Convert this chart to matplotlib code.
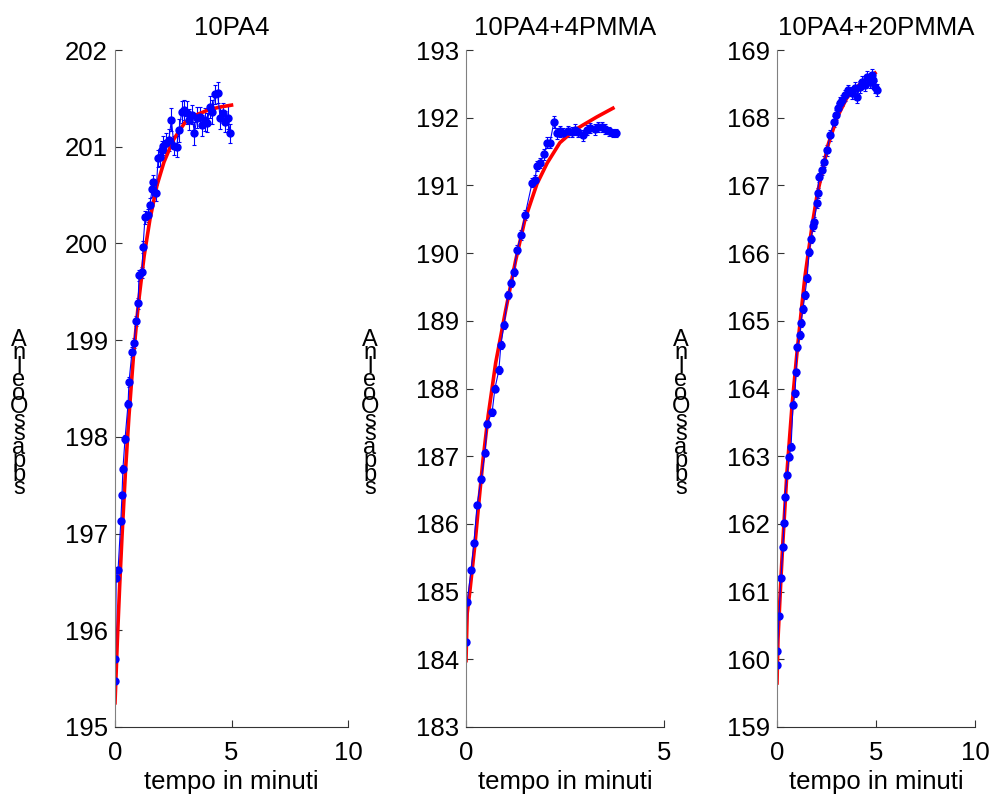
import matplotlib
matplotlib.use('Agg')
import matplotlib.pyplot as plt

plt.rcParams['font.family'] = ['Liberation Sans', 'DejaVu Sans']

# titoli dei tre pannelli
titoli = ['10PA4', '10PA4+4PMMA', '10PA4+20PMMA']
etichetta_x = 'tempo in minuti'
lettere_y = ['A', 'n', 'l', 'e', 'o', 'O', 's', 's', 'a', 'p', 'b', 's']

# 10PA4 - dati misurati
t1 = [0.00, 0.02, 0.05, 0.13, 0.25, 0.30, 0.34, 0.43, 0.56, 0.60,
      0.73, 0.82, 0.90, 0.99, 1.03, 1.16, 1.20, 1.29, 1.42, 1.50,
      1.59, 1.63, 1.76, 1.85, 1.93, 2.02, 2.06, 2.20, 2.31, 2.42,
      2.53, 2.64, 2.75, 2.86, 2.97, 3.08, 3.19, 3.30, 3.41, 3.52,
      3.63, 3.74, 3.85, 3.96, 4.07, 4.18, 4.29, 4.40, 4.51, 4.62,
      4.73, 4.84, 4.95]
y1 = [195.48, 195.70, 196.54, 196.62, 197.13, 197.40, 197.67, 197.98, 198.34, 198.57,
      198.88, 198.97, 199.20, 199.38, 199.67, 199.70, 199.96, 200.27, 200.29, 200.40,
      200.56, 200.63, 200.52, 200.88, 200.89, 200.97, 201.01, 201.04, 201.07, 201.28,
      201.01, 201.00, 201.17, 201.36, 201.38, 201.35, 201.28, 201.33, 201.14, 201.30,
      201.31, 201.22, 201.28, 201.25, 201.41, 201.36, 201.54, 201.56, 201.30, 201.35,
      201.26, 201.30, 201.14]
e1 = [0.02, 0.02, 0.03, 0.03, 0.03, 0.03, 0.04, 0.04, 0.04, 0.05,
      0.05, 0.05, 0.05, 0.06, 0.06, 0.06, 0.06, 0.07, 0.07, 0.07,
      0.08, 0.08, 0.08, 0.09, 0.09, 0.09, 0.10, 0.10, 0.11, 0.12,
      0.10, 0.11, 0.12, 0.11, 0.10, 0.12, 0.11, 0.10, 0.12, 0.11,
      0.10, 0.11, 0.12, 0.10, 0.11, 0.12, 0.10, 0.11, 0.12, 0.10,
      0.11, 0.12, 0.10]
# 10PA4 - curva di fit
tf1 = [0.0, 0.1, 0.2, 0.3, 0.45, 0.6, 0.8, 1.0, 1.25, 1.5, 1.8, 2.1, 2.5, 3.0, 3.5, 4.0, 4.5, 5.0]
yf1 = [195.25, 195.89, 196.46, 196.97, 197.65, 198.22, 198.86, 199.37, 199.87, 200.25,
       200.60, 200.84, 201.07, 201.25, 201.33, 201.38, 201.41, 201.43]

# 10PA4+4PMMA - dati misurati
t2 = [0.00, 0.03, 0.13, 0.20, 0.28, 0.38, 0.48, 0.53, 0.66, 0.73,
      0.83, 0.88, 0.96, 1.06, 1.14, 1.21, 1.29, 1.39, 1.49, 1.67,
      1.74, 1.79, 1.87, 1.97, 2.05, 2.12, 2.22, 2.30, 2.37, 2.45,
      2.58, 2.68, 2.75, 2.83, 2.95, 3.06, 3.13, 3.26, 3.33, 3.43,
      3.51, 3.61, 3.71, 3.79]
y2 = [184.26, 184.85, 185.32, 185.72, 186.28, 186.66, 187.05, 187.48, 187.65, 188.00,
      188.27, 188.64, 188.94, 189.38, 189.56, 189.72, 190.05, 190.27, 190.56, 191.04,
      191.08, 191.29, 191.33, 191.46, 191.63, 191.63, 191.94, 191.77, 191.80, 191.77,
      191.80, 191.79, 191.82, 191.79, 191.74, 191.82, 191.85, 191.83, 191.86, 191.86,
      191.83, 191.80, 191.77, 191.77]
e2 = [0.03, 0.03, 0.04, 0.04, 0.04, 0.05, 0.05, 0.05, 0.05, 0.05,
      0.06, 0.06, 0.06, 0.06, 0.06, 0.06, 0.07, 0.07, 0.07, 0.07,
      0.07, 0.07, 0.08, 0.08, 0.08, 0.08, 0.09, 0.08, 0.08, 0.08,
      0.08, 0.07, 0.08, 0.08, 0.08, 0.07, 0.07, 0.08, 0.07, 0.07,
      0.07, 0.07, 0.06, 0.06]
# 10PA4+4PMMA - curva di fit
tf2 = [0.0, 0.03, 0.1, 0.23, 0.33, 0.43, 0.56, 0.75, 1.0, 1.25, 1.49, 1.79, 2.05, 2.37, 2.7, 2.95, 3.3, 3.71]
yf2 = [183.98, 184.68, 185.02, 185.72, 186.35, 186.95, 187.60, 188.38, 189.15, 189.88,
       190.50, 191.02, 191.33, 191.63, 191.80, 191.89, 192.01, 192.14]

# 10PA4+20PMMA - dati misurati
t3 = [0.00, 0.02, 0.10, 0.20, 0.30, 0.35, 0.40, 0.51, 0.61, 0.71,
      0.81, 0.91, 0.96, 1.01, 1.16, 1.21, 1.31, 1.41, 1.52, 1.62,
      1.72, 1.82, 1.87, 2.02, 2.05, 2.12, 2.27, 2.37, 2.53, 2.68,
      2.88, 2.98, 3.08, 3.18, 3.28, 3.43, 3.59, 3.79, 3.94, 4.04,
      4.19, 4.29, 4.44, 4.55, 4.70, 4.80, 4.85, 4.95, 5.05]
y3 = [159.92, 160.12, 160.64, 161.20, 161.66, 162.01, 162.40, 162.72, 162.99, 163.14,
      163.76, 163.93, 164.24, 164.61, 164.79, 164.97, 165.17, 165.38, 165.63, 166.02,
      166.21, 166.40, 166.46, 166.74, 166.89, 167.12, 167.23, 167.35, 167.52, 167.74,
      167.94, 168.04, 168.14, 168.22, 168.26, 168.33, 168.41, 168.36, 168.44, 168.31,
      168.45, 168.53, 168.48, 168.60, 168.53, 168.63, 168.56, 168.45, 168.41]
e3 = [0.03, 0.03, 0.03, 0.04, 0.04, 0.04, 0.04, 0.04, 0.05, 0.05,
      0.05, 0.05, 0.05, 0.05, 0.06, 0.06, 0.06, 0.06, 0.06, 0.06,
      0.06, 0.07, 0.07, 0.07, 0.07, 0.07, 0.07, 0.08, 0.08, 0.08,
      0.08, 0.08, 0.08, 0.08, 0.08, 0.08, 0.08, 0.09, 0.09, 0.09,
      0.09, 0.09, 0.09, 0.09, 0.09, 0.09, 0.09, 0.09, 0.09]
# 10PA4+20PMMA - curva di fit
tf3 = [0.0, 0.05, 0.2, 0.3, 0.5, 0.76, 1.0, 1.21, 1.41, 1.77, 2.02, 2.58, 3.03, 3.54, 4.2, 4.95]
yf3 = [159.65, 160.30, 161.20, 161.75, 162.75, 163.75, 164.50, 165.10, 165.65, 166.40,
       166.85, 167.60, 168.00, 168.30, 168.50, 168.66]

dati = [(t1, y1, e1, tf1, yf1), (t2, y2, e2, tf2, yf2), (t3, y3, e3, tf3, yf3)]
limiti_x = [(0, 10), (0, 5), (0, 10)]
limiti_y = [(195, 202), (183, 193), (159, 169)]
tick_x = [[0, 5, 10], [0, 5], [0, 5, 10]]

W, H = 994, 800
fig = plt.figure(figsize=(W / 100, H / 100), dpi=100)
# posizioni degli assi in pixel (sinistra, larghezza)
assi_px = [(115, 233), (466, 198), (777, 198)]

for i in range(3):
    t, y, e, tf, yf = dati[i]
    sx, lx = assi_px[i]
    ax = fig.add_axes([sx / W, 73 / H, lx / W, 677 / H])
    ax.errorbar(t, y, yerr=e, fmt='-o', color='blue', lw=0.8, ms=5,
                elinewidth=0.8, capsize=1.5, capthick=0.8)
    ax.plot(tf, yf, color='red', lw=2.6)
    ax.set_xlim(limiti_x[i])
    ax.set_ylim(limiti_y[i])
    ax.set_xticks(tick_x[i])
    ax.set_yticks(range(limiti_y[i][0], limiti_y[i][1] + 1))
    ax.spines['top'].set_visible(False)
    ax.spines['right'].set_visible(False)
    ax.spines['left'].set_color('#808080')
    ax.spines['bottom'].set_color('#333333')
    ax.tick_params(axis='both', direction='in', length=5, width=0.8,
                   labelsize=18.5, color='#333333')
    ax.tick_params(axis='x', pad=10)
    ax.tick_params(axis='y', pad=5)
    ax.set_title(titoli[i], fontsize=18.5, pad=11)
    ax.set_xlabel(etichetta_x, fontsize=18.5, labelpad=4)
    # etichetta y con le lettere impilate (come nell'originale)
    fig.text((sx - 96) / W, 1 - 414 / H, '\n'.join(lettere_y), fontsize=17,
             ha='center', va='center', linespacing=0.5)

fig.savefig('out.png', dpi=100)
